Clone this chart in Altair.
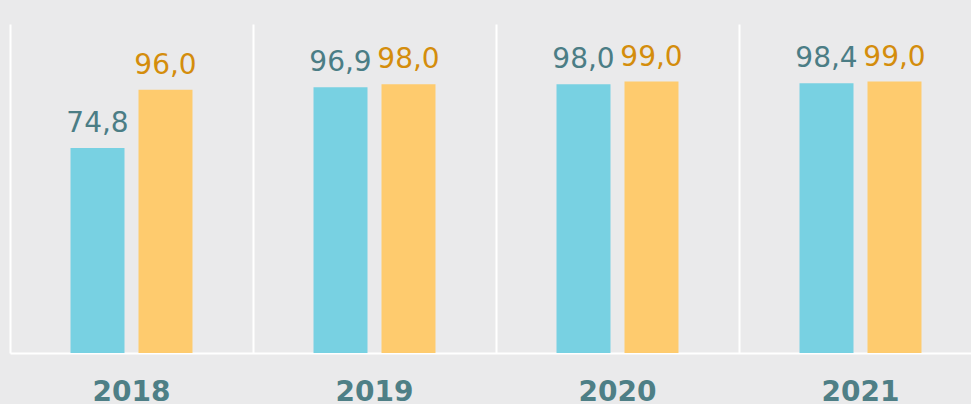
import altair as alt
import pandas as pd

years = ["2018", "2019", "2020", "2021"]
series = ["A", "B"]
values_a = [74.8, 96.9, 98.0, 98.4]
values_b = [96.0, 98.0, 99.0, 99.0]

rows = []
for i, y in enumerate(years):
    rows.append({"year": y, "series": series[0], "value": values_a[i]})
    rows.append({"year": y, "series": series[1], "value": values_b[i]})
df = pd.DataFrame(rows)

x = alt.X(
    "year:N",
    sort=years,
    scale=alt.Scale(range=[0, 972], paddingInner=0, paddingOuter=0),
    axis=alt.Axis(
        title=None,
        grid=True,
        bandPosition=0,
        gridColor="#ffffff",
        gridWidth=2,
        gridOpacity=1,
        domainColor="#ffffff",
        domainWidth=2,
        ticks=False,
        tickSize=0,
        labelAngle=0,
        labelFont="DejaVu Sans",
        labelFontWeight="bold",
        labelFontSize=28,
        labelColor="#4e7f86",
        labelBaseline="alphabetic",
        labelPadding=47,
    ),
)
xo = alt.XOffset(
    "series:N", sort=series, scale=alt.Scale(paddingInner=0.206, paddingOuter=0.89)
)
y = alt.Y(
    "value:Q",
    scale=alt.Scale(domain=[0, 120], nice=False),
    axis=None,
)

bars = alt.Chart(df).mark_bar().encode(
    x=x,
    xOffset=xo,
    y=y,
    color=alt.Color(
        "series:N",
        scale=alt.Scale(domain=series, range=["#78d1e2", "#fecb6e"]),
        legend=None,
    ),
)

labels = (
    alt.Chart(df)
    .transform_calculate(label="replace(format(datum.value, '.1f'), '.', ',')")
    .mark_text(baseline="alphabetic", dy=-16, font="DejaVu Sans", fontSize=28)
    .encode(
        x=x,
        xOffset=xo,
        y=y,
        text="label:N",
        color=alt.Color(
            "series:N",
            scale=alt.Scale(domain=series, range=["#4b7d85", "#d48d0c"]),
            legend=None,
        ),
    )
)

chart = (
    alt.layer(bars, labels)
    .resolve_scale(color="independent")
    .properties(
        width=961,
        height=329,
        autosize=alt.AutoSizeParams(type="none"),
        padding={"left": 10, "top": 24, "right": 0, "bottom": 51},
        background="#eaeaeb",
    )
    .configure_view(stroke=None)
)

chart.save("out.html", embed_options={"renderer": "svg", "actions": False})
